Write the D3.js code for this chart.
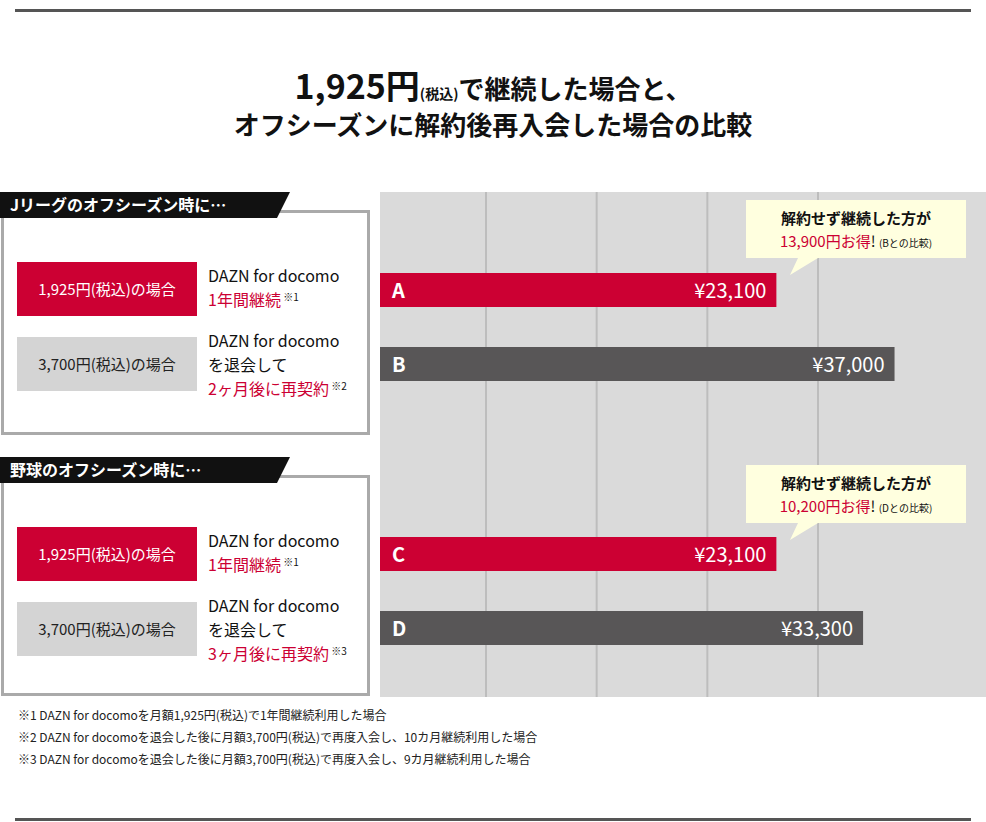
<!DOCTYPE html>
<html><head><meta charset="utf-8">
<script src="https://cdn.jsdelivr.net/npm/d3@7"></script>
<style>body{margin:0;background:#fff}text{font-family:"Noto Sans CJK JP","Noto Sans",sans-serif}</style>
</head><body><svg id="c" width="986" height="822"></svg>
<script>
const barLabels=["A","B","C","D"];
const barValues=[23100,37000,23100,33300];
const barTypes=["red","gray","red","gray"];
const gridIndex=[0,1,2,3];
const titleLines=["1,925円","オフシーズンに解約後再入会した場合の比較"];
const sections=[
 {head:"Jリーグのオフシーズン時に…",months:"2ヶ月後に再契約",note:"※2",diff:"13,900円お得!",cmp:"(Bとの比較)"},
 {head:"野球のオフシーズン時に…",months:"3ヶ月後に再契約",note:"※3",diff:"10,200円お得!",cmp:"(Dとの比較)"}];
const footnotes=["※1 DAZN for docomoを月額1,925円(税込)で1年間継続利用した場合",
"※2 DAZN for docomoを退会した後に月額3,700円(税込)で再度入会し、10カ月継続利用した場合",
"※3 DAZN for docomoを退会した後に月額3,700円(税込)で再度入会し、9カ月継続利用した場合"];

const RED="#cc0033",DARK="#585657",svg=d3.select("#c");
svg.append("rect").attr("x",15).attr("y",9).attr("width",956).attr("height",3).attr("fill","#555");
svg.append("rect").attr("x",15).attr("y",818).attr("width",956).attr("height",3).attr("fill","#555");
const t1=svg.append("text").attr("x",493).attr("y",99).attr("text-anchor","middle").attr("font-weight","bold").attr("fill","#111");
t1.append("tspan").attr("font-size",34).text(titleLines[0]);
t1.append("tspan").attr("font-size",14).text("(税込)");
t1.append("tspan").attr("font-size",26).text("で継続した場合と、");
svg.append("text").attr("x",493).attr("y",135).attr("text-anchor","middle").attr("font-weight","bold").attr("font-size",26).attr("fill","#111").text(titleLines[1]);

const x=d3.scaleLinear().domain([-23530,47760]).range([380,986]);
const yPos=d3.scaleOrdinal().domain(barLabels).range([273,347,537,611]);
svg.append("rect").attr("x",380).attr("y",192).attr("width",606).attr("height",505).attr("fill","#dadada");
const g=d3.scaleLinear().domain([0,3]).range([486,818]);
svg.selectAll(".gl").data(gridIndex).join("line").attr("x1",d=>g(d)).attr("x2",d=>g(d)).attr("y1",192).attr("y2",697).attr("stroke","#bdbdbd").attr("stroke-width",2);
barLabels.forEach((l,i)=>{
 const y0=yPos(l),v=barValues[i];
 svg.append("rect").attr("x",380).attr("y",y0).attr("width",x(v)-380).attr("height",34).attr("fill",barTypes[i]=="red"?RED:DARK);
 svg.append("text").attr("x",392).attr("y",y0+25).attr("fill","#fff").attr("font-size",20).attr("font-weight","bold").text(l);
 svg.append("text").attr("x",x(v)-10).attr("y",y0+25).attr("text-anchor","end").attr("fill","#fff").attr("font-size",20).text("¥"+d3.format(",")(v));
});
[200,465].forEach((cy,k)=>{
 const s=sections[k];
 svg.append("path").attr("d",`M746,${cy}H966V${cy+58}H818L790,${cy+75}L798,${cy+58}H746Z`).attr("fill","#ffffdf");
 svg.append("text").attr("x",856).attr("y",cy+24).attr("text-anchor","middle").attr("font-size",15).attr("font-weight","bold").attr("fill","#111").text("解約せず継続した方が");
 const t=svg.append("text").attr("x",856).attr("y",cy+47).attr("text-anchor","middle").attr("font-size",15);
 t.append("tspan").attr("fill",RED).text(s.diff.slice(0,-1));
 t.append("tspan").attr("fill","#111").text("! ");
 t.append("tspan").attr("font-size",10).attr("fill","#111").text(s.cmp);
});
[192,457].forEach((hy,k)=>{
 const s=sections[k],by=hy+18,bh=k==0?225:221;
 svg.append("rect").attr("x",2.5).attr("y",by+1.5).attr("width",366).attr("height",bh-3).attr("fill","#fff").attr("stroke","#aaa").attr("stroke-width",3);
 svg.append("path").attr("d",`M0,${hy}H290L277,${hy+26}H0Z`).attr("fill","#111");
 svg.append("text").attr("x",10).attr("y",hy+19).attr("fill","#fff").attr("font-size",16).attr("font-weight","bold").text(s.head);
 const r1=by+52,r2=by+127;
 svg.append("rect").attr("x",17).attr("y",r1).attr("width",180).attr("height",54).attr("fill",RED);
 svg.append("text").attr("x",107).attr("y",r1+33).attr("text-anchor","middle").attr("fill","#fff").attr("font-size",15).text("1,925円(税込)の場合");
 svg.append("rect").attr("x",17).attr("y",r2).attr("width",180).attr("height",54).attr("fill","#d4d4d4");
 svg.append("text").attr("x",107).attr("y",r2+33).attr("text-anchor","middle").attr("fill","#222").attr("font-size",15).text("3,700円(税込)の場合");
 const tx=208;
 svg.append("text").attr("x",tx).attr("y",r1+20).attr("font-size",16).attr("fill","#111").text("DAZN for docomo");
 const a=svg.append("text").attr("x",tx).attr("y",r1+44).attr("font-size",16);
 a.append("tspan").attr("fill",RED).text("1年間継続");
 a.append("tspan").attr("fill","#111").attr("font-size",10).attr("dy",-5).text(" ※1");
 svg.append("text").attr("x",tx).attr("y",r2+10).attr("font-size",16).attr("fill","#111").text("DAZN for docomo");
 svg.append("text").attr("x",tx).attr("y",r2+34).attr("font-size",16).attr("fill","#111").text("を退会して");
 const b=svg.append("text").attr("x",tx).attr("y",r2+58).attr("font-size",16);
 b.append("tspan").attr("fill",RED).text(s.months);
 b.append("tspan").attr("fill","#111").attr("font-size",10).attr("dy",-5).text(" "+s.note);
});
footnotes.forEach((f,i)=>svg.append("text").attr("x",18).attr("y",720+i*22).attr("font-size",12).attr("fill","#222").text(f));
</script></body></html>
